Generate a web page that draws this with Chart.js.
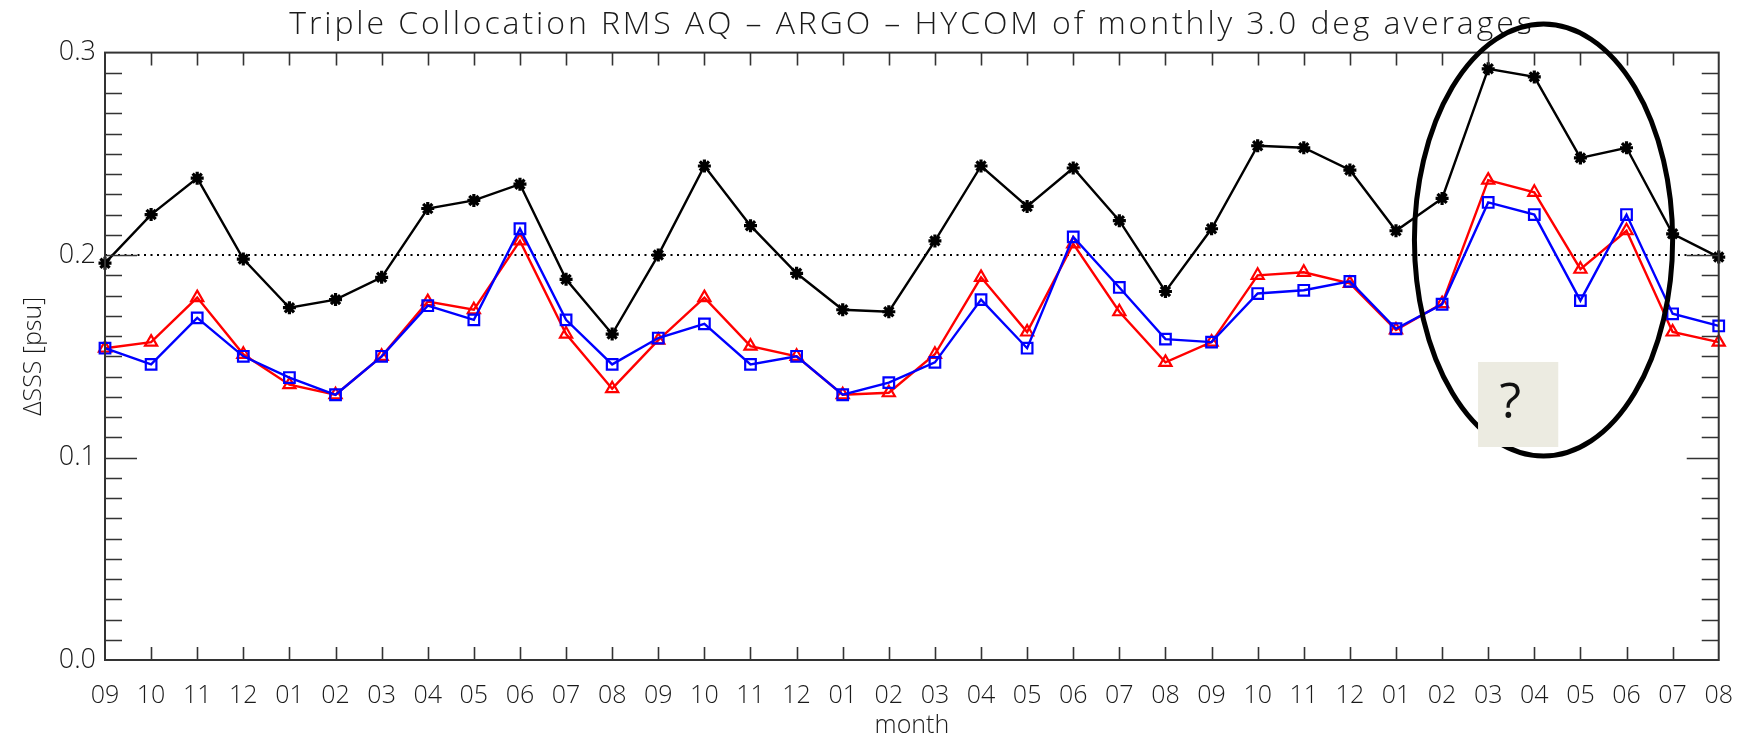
<!DOCTYPE html>
<html>
<head>
<meta charset="utf-8">
<title>Triple Collocation RMS</title>
<script src="https://cdn.jsdelivr.net/npm/chart.js@4.4.1/dist/chart.umd.min.js"></script>
<style>
  html, body { margin: 0; padding: 0; background: #fff; }
</style>
</head>
<body>
<canvas id="tcChart" width="1754" height="738"></canvas>
<script>
// months, Sep (year 1) .. Aug (year 4)
const months = ['09','10','11','12',
  '01','02','03','04','05','06','07','08','09','10','11','12',
  '01','02','03','04','05','06','07','08','09','10','11','12',
  '01','02','03','04','05','06','07','08'];

// black stars
const rmsAQ = [0.196, 0.220, 0.238, 0.198, 0.174, 0.178, 0.189, 0.223, 0.227, 0.235, 0.188, 0.161,
  0.200, 0.244, 0.2145, 0.191, 0.173, 0.172, 0.207, 0.244, 0.224, 0.243, 0.217, 0.182,
  0.213, 0.254, 0.253, 0.242, 0.212, 0.228, 0.292, 0.288, 0.248, 0.253, 0.2105, 0.199];

// red triangles
const rmsARGO = [0.154, 0.157, 0.179, 0.151, 0.136, 0.131, 0.150, 0.177, 0.173, 0.207, 0.161, 0.134,
  0.158, 0.179, 0.155, 0.150, 0.131, 0.132, 0.151, 0.189, 0.162, 0.2055, 0.172, 0.147,
  0.157, 0.190, 0.1915, 0.186, 0.163, 0.176, 0.237, 0.231, 0.193, 0.212, 0.162, 0.157];

// blue squares
const rmsHYCOM = [0.154, 0.146, 0.169, 0.150, 0.1395, 0.131, 0.150, 0.175, 0.168, 0.213, 0.168, 0.146,
  0.159, 0.166, 0.146, 0.150, 0.131, 0.137, 0.147, 0.178, 0.154, 0.209, 0.184, 0.1585,
  0.157, 0.181, 0.1826, 0.187, 0.1636, 0.1757, 0.226, 0.220, 0.1775, 0.220, 0.171, 0.165];

const yMin = 0.0;
const yMax = 0.3;
const yMajorStep = 0.1;
const yMinorStep = 0.01;
const refLevel = 0.2;   // dotted line

const titleText = 'Triple Collocation RMS AQ \u2013 ARGO \u2013 HYCOM of monthly 3.0 deg averages';

// the hand-drawn ellipse and "?" note (in axis units)
const noteEllipse = { cx: 31.2, cy: 0.2074, rx: 2.8, ry: 0.1067 };
const noteBox = { x0: 29.78, x1: 31.52, y0: 0.1472, y1: 0.1052 };
const noteMark = { x: 30.48, y: 0.1264, text: '?' };

const fontFam = '"Open Sans", "DejaVu Sans", sans-serif';
const inkColor = '#1a1a1a';

// ticks drawn inward on all four sides, plus the frame, the dotted line and the title
const idlFrame = {
  id: 'idlFrame',
  beforeDatasetsDraw(chart) {
    const { ctx, chartArea: a, scales: { y } } = chart;
    const yp = y.getPixelForValue(refLevel);
    ctx.save();
    ctx.strokeStyle = '#000';
    ctx.lineWidth = 2;
    ctx.setLineDash([2, 4.5]);
    ctx.beginPath();
    ctx.moveTo(a.left, yp);
    ctx.lineTo(a.right, yp);
    ctx.stroke();
    ctx.restore();
  },
  afterDatasetsDraw(chart) {
    const { ctx, chartArea: a, scales: { x, y } } = chart;
    ctx.save();
    ctx.strokeStyle = '#333';
    ctx.lineWidth = 2;
    ctx.strokeRect(a.left, a.top, a.right - a.left, a.bottom - a.top);

    ctx.lineWidth = 1.6;
    ctx.beginPath();
    // month ticks, top and bottom
    for (let i = 1; i < months.length - 1; i++) {
      const px = Math.round(x.getPixelForValue(i)) + 0.5;
      ctx.moveTo(px, a.bottom); ctx.lineTo(px, a.bottom - 13);
      ctx.moveTo(px, a.top); ctx.lineTo(px, a.top + 13);
    }
    // y ticks, left and right
    const nMinor = Math.round((yMax - yMin) / yMinorStep);
    const perMajor = Math.round(yMajorStep / yMinorStep);
    for (let k = 1; k < nMinor; k++) {
      const py = Math.round(y.getPixelForValue(yMin + k * yMinorStep)) + 0.5;
      const len = (k % perMajor === 0) ? 32 : 17;
      ctx.moveTo(a.left, py); ctx.lineTo(a.left + len, py);
      ctx.moveTo(a.right, py); ctx.lineTo(a.right - len, py);
    }
    ctx.stroke();
    ctx.restore();

    // title, wide letter spacing like the IDL font
    ctx.save();
    ctx.fillStyle = inkColor;
    ctx.font = '300 32px ' + fontFam;
    ctx.letterSpacing = '2.9px';
    ctx.textAlign = 'center';
    ctx.textBaseline = 'alphabetic';
    ctx.fillText(titleText, (a.left + a.right) / 2, 34);
    ctx.restore();

    // annotation: ellipse, grey box and question mark
    const ex = x.getPixelForValue(noteEllipse.cx);
    const ey = y.getPixelForValue(noteEllipse.cy);
    const erx = x.getPixelForValue(noteEllipse.cx + noteEllipse.rx) - ex;
    const ery = ey - y.getPixelForValue(noteEllipse.cy + noteEllipse.ry);
    ctx.save();
    ctx.strokeStyle = '#000';
    ctx.lineWidth = 5;
    ctx.beginPath();
    ctx.ellipse(ex, ey, erx, ery, 0, 0, Math.PI * 2);
    ctx.stroke();

    const bx0 = x.getPixelForValue(noteBox.x0);
    const bx1 = x.getPixelForValue(noteBox.x1);
    const by0 = y.getPixelForValue(noteBox.y0);
    const by1 = y.getPixelForValue(noteBox.y1);
    ctx.fillStyle = '#ecebe1';
    ctx.fillRect(bx0, by0, bx1 - bx0, by1 - by0);

    ctx.fillStyle = '#111';
    ctx.font = '50px "Open Sans", "Noto Sans", sans-serif';
    ctx.textAlign = 'center';
    ctx.textBaseline = 'middle';
    ctx.fillText(noteMark.text, x.getPixelForValue(noteMark.x), y.getPixelForValue(noteMark.y));
    ctx.restore();
  }
};

const ctx = document.getElementById('tcChart').getContext('2d');
const tcChart = new Chart(ctx, {
  type: 'line',
  data: {
    labels: months,
    datasets: [
      {
        label: 'HYCOM',
        data: rmsHYCOM,
        borderColor: '#0000ff',
        borderWidth: 2.4,
        pointStyle: 'rect',
        pointRadius: 7.5,
        pointBorderWidth: 2.2,
        pointBorderColor: '#0000ff',
        pointBackgroundColor: 'rgba(0,0,0,0)',
        tension: 0
      },
      {
        label: 'ARGO',
        data: rmsARGO,
        borderColor: '#ff0000',
        borderWidth: 2.4,
        pointStyle: 'triangle',
        pointRadius: 7,
        pointBorderWidth: 2.2,
        pointBorderColor: '#ff0000',
        pointBackgroundColor: 'rgba(0,0,0,0)',
        tension: 0
      },
      {
        label: 'AQ',
        data: rmsAQ,
        borderColor: '#000000',
        borderWidth: 2.4,
        pointStyle: 'star',
        pointRadius: 6.5,
        pointBorderWidth: 3.2,
        pointBorderColor: '#000000',
        pointBackgroundColor: '#000000',
        tension: 0
      }
    ]
  },
  options: {
    responsive: false,
    animation: false,
    devicePixelRatio: 1,
    layout: { padding: { left: 0, right: 32, top: 52.6, bottom: 0 } },
    plugins: {
      legend: { display: false },
      tooltip: { enabled: false },
      title: { display: false }
    },
    scales: {
      x: {
        type: 'category',
        offset: false,
        grid: { display: false, drawTicks: false },
        border: { display: false },
        ticks: {
          autoSkip: false,
          maxRotation: 0,
          minRotation: 0,
          padding: 21,
          color: inkColor,
          font: { family: fontFam, size: 25, weight: 300, lineHeight: 1.2 }
        },
        title: {
          display: true,
          text: 'month',
          color: inkColor,
          font: { family: fontFam, size: 25, weight: 300, lineHeight: 1 },
          padding: { top: 0, bottom: 0 }
        },
        afterFit(scale) { scale.height = 78; }
      },
      y: {
        min: yMin,
        max: yMax,
        grid: { display: false, drawTicks: false },
        border: { display: false },
        ticks: {
          stepSize: yMajorStep,
          padding: 9,
          color: inkColor,
          font: { family: fontFam, size: 27, weight: 300 },
          callback: (v) => Number(v).toFixed(1)
        },
        title: {
          display: true,
          text: '\u0394SSS [psu]',
          color: inkColor,
          font: { family: fontFam, size: 25, weight: 300, lineHeight: 1 },
          padding: { top: 21, bottom: 0 }
        },
        afterFit(scale) { scale.width = 105; }
      }
    }
  },
  plugins: [idlFrame]
});
</script>
</body>
</html>
